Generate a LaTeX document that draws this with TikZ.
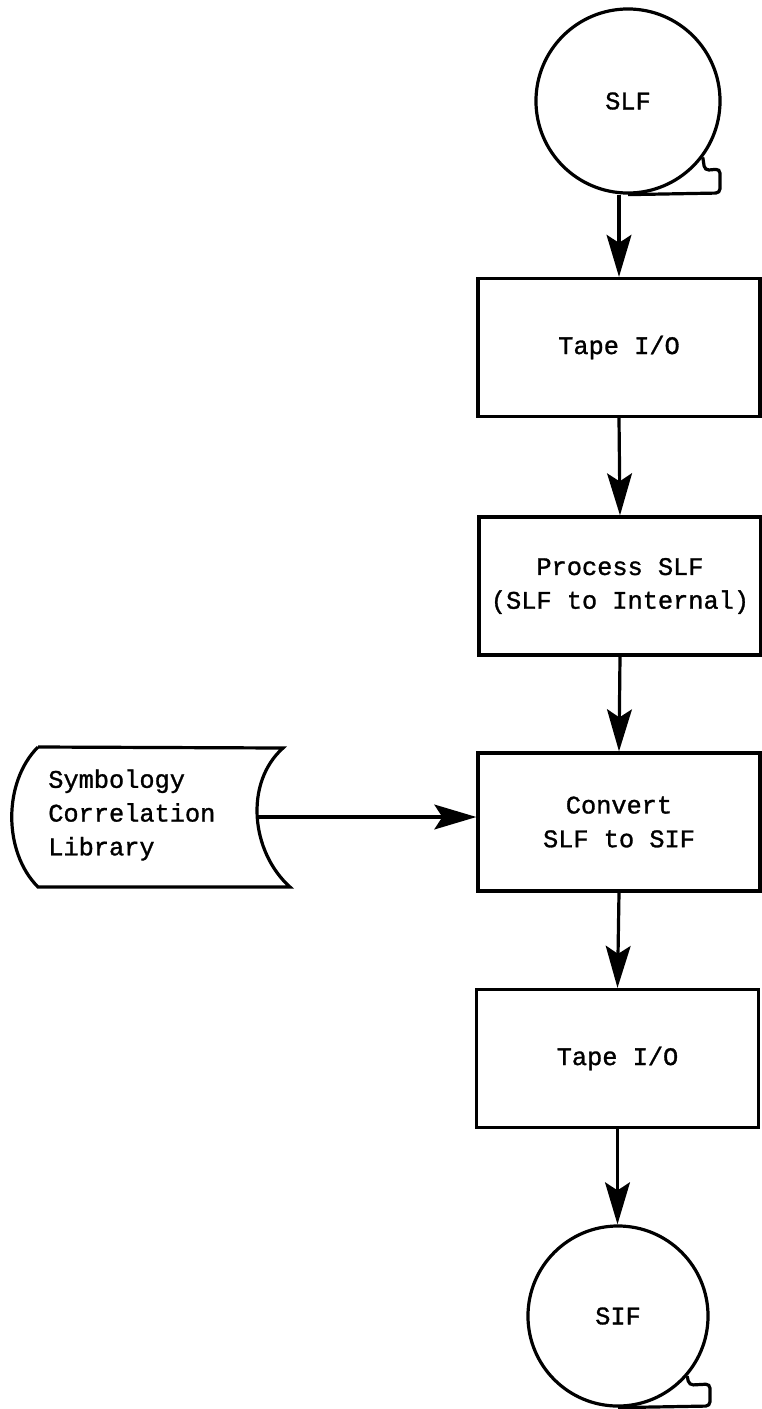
\documentclass[tikz,border=0pt]{standalone}
\usepackage{fontspec}
\setmonofont[FakeBold=1.2]{Liberation Mono}
\usetikzlibrary{arrows.meta,positioning,calc}

\begin{document}
\begin{tikzpicture}[x=0.025cm, y=-0.025cm, line width=0.08cm,
  every node/.style={font=\ttfamily\fontsize{18}{24}\selectfont},
  procbox/.style={draw, rectangle, minimum width=7.05cm, minimum height=3.45cm, align=center},
  tapereel/.style={draw, circle, inner sep=0pt},
  flow/.style={-{Stealth[length=1.05cm, width=0.62cm, inset=0.2cm]}}]
  %
  \useasboundingbox (0,0) rectangle (762,1409);
  %
  \node[tapereel, minimum size=4.6cm] (slf) at (628,101) {SLF};
  \node[procbox] (tapeA) at (619,347.5) {Tape I/O};
  \node[procbox] (proc) at (620,586) {Process SLF\\(SLF to Internal)};
  \node[procbox] (conv) at (619,822) {Convert\\SLF to SIF};
  \node[procbox] (tapeB) at (617.5,1058.5) {Tape I/O};
  \node[tapereel, minimum size=4.5cm] (sif) at (618,1316) {SIF};
  %
  \node[anchor=west, align=left] (lib) at (42,815) {Symbology\\Correlation\\Library};
  \coordinate (libR) at (257,817);
  %
  % tape tails
  \draw[rounded corners=3] (slf.-37) -- ++(2,13) -- (720,169) -- (720,193) -- (slf.south);
  \draw[rounded corners=3] (sif.-41) -- ++(2,9) -- (710,1384) -- (710,1406) -- (sif.south);
  %
  % library outline
  \draw (38,747) -- (283,748) .. controls (244,783) and (251,852) .. (290,887)
        -- (38,887) .. controls (3,852) and (3,782) .. (38,747);
  %
  \draw[flow] (slf.south -| tapeA.north) -- (tapeA.north);
  \draw[flow] (tapeA.south) -- (proc.north);
  \draw[flow] (proc.south) -- (conv.north);
  \draw[flow] (libR) -- (libR -| conv.west);
  \draw[flow] (conv.south) -- (tapeB.north);
  \draw[flow] (tapeB.south) -- (tapeB.south |- sif.north);
  %
\end{tikzpicture}
\end{document}
